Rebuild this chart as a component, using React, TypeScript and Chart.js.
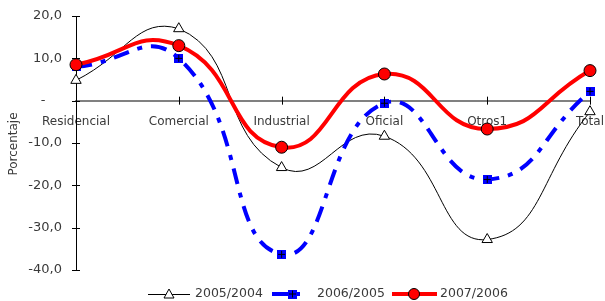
import React, { useEffect, useRef } from "react";
import { Chart, registerables } from "chart.js";

Chart.register(...registerables);

const categories = ["Residencial", "Comercial", "Industrial", "Oficial", "Otros1", "Total"];
const s2005 = [4.8, 17.0, -15.8, -8.4, -32.8, -2.6];
const s2006 = [8.0, 10.0, -36.3, -0.6, -18.6, 2.2];
const s2007 = [8.5, 13.0, -11.0, 6.3, -6.7, 7.1];
const seriesNames = ["2005/2004", "2006/2005", "2007/2006"];
const yTicks = [-40, -30, -20, -10, 0, 10, 20];

function makeSquare(): HTMLCanvasElement {
  const c = document.createElement("canvas");
  c.width = 9;
  c.height = 9;
  const g = c.getContext("2d")!;
  g.fillStyle = "#0000ff";
  g.fillRect(0, 0, 9, 9);
  g.strokeStyle = "#000";
  g.lineWidth = 1;
  g.beginPath();
  g.moveTo(1, 4.5);
  g.lineTo(8, 4.5);
  g.moveTo(4.5, 1);
  g.lineTo(4.5, 8);
  g.stroke();
  return c;
}

export default function App() {
  const ref = useRef<HTMLCanvasElement | null>(null);
  useEffect(() => {
    document.body.style.margin = "0";
    const square = makeSquare();
    const txt = "#3a3a3a";
    const extras = {
      id: "extras",
      afterDraw(chart: any) {
        const ctx = chart.ctx;
        const xs = chart.scales.x;
        const ys = chart.scales.y;
        const y0 = ys.getPixelForValue(0);
        const xl = chart.chartArea.left;
        ctx.save();
        ctx.strokeStyle = "#000";
        ctx.lineWidth = 1;
        yTicks.forEach((v) => {
          const py = Math.round(ys.getPixelForValue(v)) + 0.5;
          ctx.beginPath();
          ctx.moveTo(xl - 4, py);
          ctx.lineTo(xl + 4, py);
          ctx.stroke();
        });
        categories.forEach((_, i) => {
          const px = Math.round(xs.getPixelForValue(i)) + 0.5;
          ctx.beginPath();
          ctx.moveTo(px, y0 - 4);
          ctx.lineTo(px, y0 + 4);
          ctx.stroke();
        });
        ctx.fillStyle = txt;
        ctx.font = "12px 'DejaVu Sans'";
        ctx.translate(14, 144);
        ctx.rotate(-Math.PI / 2);
        ctx.textAlign = "center";
        ctx.textBaseline = "middle";
        ctx.fillText("Porcentaje", 0, 0);
        ctx.restore();

        ctx.save();
        const ly = 294;
        ctx.font = "12.5px 'DejaVu Sans'";
        ctx.textBaseline = "middle";
        ctx.textAlign = "left";
        ctx.strokeStyle = "#000";
        ctx.lineWidth = 1;
        ctx.beginPath();
        ctx.moveTo(148, ly + 0.5);
        ctx.lineTo(190, ly + 0.5);
        ctx.stroke();
        ctx.fillStyle = "#fff";
        ctx.beginPath();
        ctx.moveTo(169, ly - 5);
        ctx.lineTo(174, ly + 4);
        ctx.lineTo(164, ly + 4);
        ctx.closePath();
        ctx.fill();
        ctx.stroke();
        ctx.fillStyle = txt;
        ctx.fillText(seriesNames[0], 195, ly);
        ctx.strokeStyle = "#0000ff";
        ctx.lineWidth = 4;
        ctx.beginPath();
        ctx.moveTo(272, ly);
        ctx.lineTo(300, ly);
        ctx.stroke();
        ctx.drawImage(square, 288, ly - 4.5);
        ctx.fillStyle = txt;
        ctx.fillText(seriesNames[1], 317, ly);
        ctx.strokeStyle = "#ff0000";
        ctx.lineWidth = 4;
        ctx.beginPath();
        ctx.moveTo(392, ly);
        ctx.lineTo(437, ly);
        ctx.stroke();
        ctx.fillStyle = "#ff0000";
        ctx.strokeStyle = "#000";
        ctx.lineWidth = 1;
        ctx.beginPath();
        ctx.arc(414, ly, 5.5, 0, Math.PI * 2);
        ctx.fill();
        ctx.stroke();
        ctx.fillStyle = txt;
        ctx.fillText(seriesNames[2], 440, ly);
        ctx.restore();
      },
    };

    const chart = new Chart(ref.current!, {
      type: "line",
      data: {
        labels: categories,
        datasets: [
          {
            label: seriesNames[0],
            data: s2005,
            borderColor: "#000",
            borderWidth: 1,
            tension: 0.5,
            pointStyle: "triangle",
            pointRadius: 6,
            pointBackgroundColor: "#fff",
            pointBorderColor: "#000",
            pointBorderWidth: 1,
            order: 3,
          },
          {
            label: seriesNames[1],
            data: s2006,
            borderColor: "#0000ff",
            borderWidth: 4,
            borderDash: [16, 9, 5, 9],
            tension: 0.5,
            pointStyle: square as any,
            pointRadius: 5,
            order: 2,
          },
          {
            label: seriesNames[2],
            data: s2007,
            borderColor: "#ff0000",
            borderWidth: 4,
            tension: 0.5,
            pointStyle: "circle",
            pointRadius: 6,
            pointBackgroundColor: "#ff0000",
            pointBorderColor: "#000",
            pointBorderWidth: 1,
            order: 1,
          },
        ],
      },
      options: {
        responsive: false,
        animation: false,
        layout: { padding: { left: 0, right: 15, top: 16, bottom: 31 } },
        plugins: { legend: { display: false }, tooltip: { enabled: false } },
        scales: {
          x: {
            type: "category",
            offset: false,
            position: { y: 0 } as any,
            afterFit: (s: any) => {
              s.paddingLeft = 0;
              s.paddingRight = 0;
            },
            grid: { display: false, drawTicks: false },
            border: { display: true, color: "#808080", width: 2 },
            ticks: {
              padding: 14,
              color: txt,
              font: { family: "'DejaVu Sans'", size: 12 },
              maxRotation: 0,
              autoSkip: false,
            },
          },
          y: {
            min: -40,
            max: 20,
            afterFit: (s: any) => {
              s.width = 76;
              s.paddingTop = 0;
              s.paddingBottom = 0;
            },
            grid: { display: false, drawTicks: false },
            border: { display: true, color: "#000", width: 1 },
            ticks: {
              stepSize: 10,
              padding: 14,
              color: txt,
              font: { family: "'DejaVu Sans'", size: 13 },
              callback: (v: any) => (v === 0 ? "-    " : Number(v).toFixed(1).replace(".", ",")),
            },
          },
        },
      },
      plugins: [extras],
    });
    return () => chart.destroy();
  }, []);
  return <canvas ref={ref} width={605} height={301} style={{ display: "block" }} />;
}
